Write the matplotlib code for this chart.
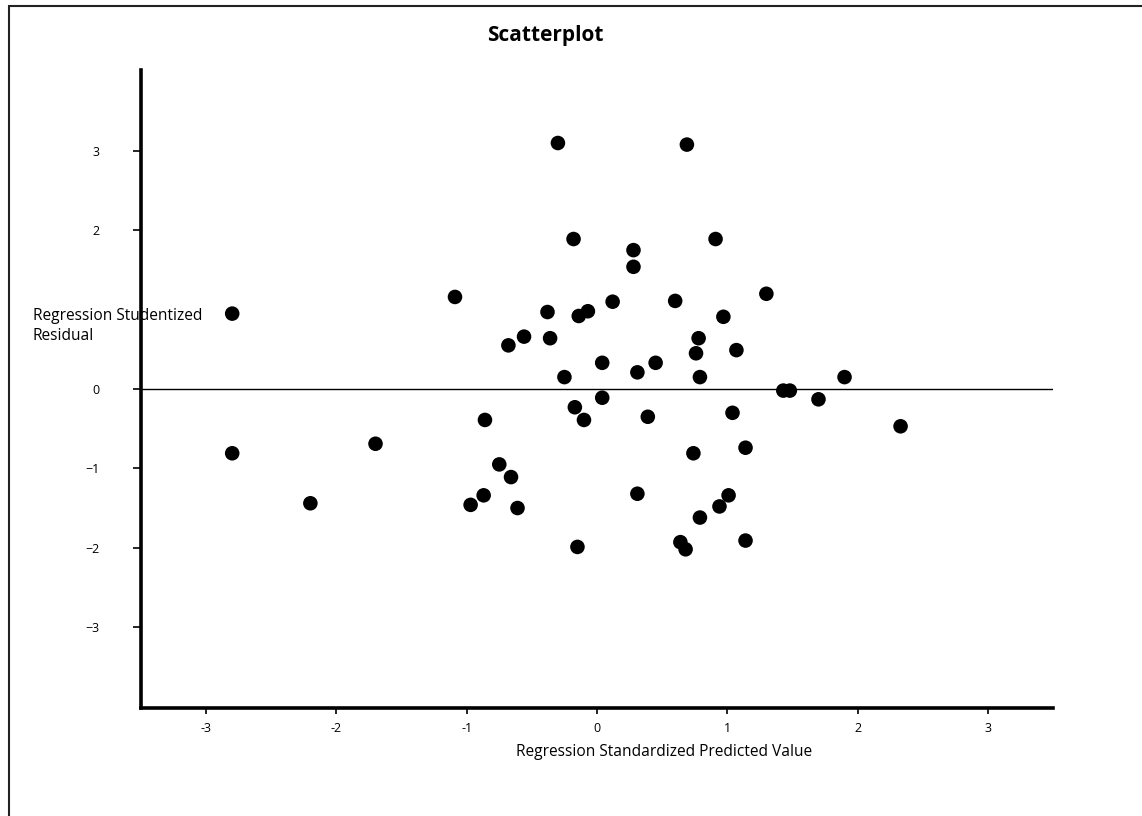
import matplotlib
matplotlib.use("Agg")
import matplotlib.pyplot as plt
from matplotlib.patches import Rectangle

plt.rcParams['font.family'] = ['Open Sans', 'DejaVu Sans']

title = "Scatterplot"
x_label = "Regression Standardized Predicted Value"
y_label = "Regression Studentized\nResidual"

x_ticks = [-3, -2, -1, 0, 1, 2, 3]
x_tick_labels = ["-3", "-2", "-1", "0", "1", "2", "3"]
y_ticks = [-3, -2, -1, 0, 1, 2, 3]
y_tick_labels = ["\u22123", "\u22122", "\u22121", "0", "1", "2", "3"]

pred = [-2.80, -2.80, -2.20, -1.70, -1.09, -0.75, -0.66, -0.87, -0.97, -0.61,
        -0.15, 0.31, -0.38, -0.14, -0.07, 0.12, -0.68, -0.56, -0.36, 0.04,
        -0.25, 0.31, -0.86, -0.17, -0.10, 0.04, 0.60, 1.30, 0.97, 0.78,
        0.76, 1.07, 0.45, 0.79, 1.43, 1.48, 1.70, 0.39, 1.04, 1.90,
        0.74, 1.14, 1.01, 0.94, 0.79, 0.64, 0.68, 1.14, -0.30, -0.18,
        0.28, 0.28, 0.69, 0.91, 2.33]
resid = [0.95, -0.81, -1.44, -0.69, 1.16, -0.95, -1.11, -1.34, -1.46, -1.50,
         -1.99, -1.32, 0.97, 0.92, 0.98, 1.10, 0.55, 0.66, 0.64, 0.33,
         0.15, 0.21, -0.39, -0.23, -0.39, -0.11, 1.11, 1.20, 0.91, 0.64,
         0.45, 0.49, 0.33, 0.15, -0.02, -0.02, -0.13, -0.35, -0.30, 0.15,
         -0.81, -0.74, -1.34, -1.48, -1.62, -1.93, -2.02, -1.91, 3.10, 1.89,
         1.75, 1.54, 3.08, 1.89, -0.47]

W, H = 1142, 816
fig = plt.figure(figsize=(W / 100, H / 100), dpi=100)
ax = fig.add_axes([141 / W, 1 - 708 / H, (1053 - 141) / W, (708 - 70) / H])

ax.axhline(0, color='black', lw=1.0, zorder=1)
ax.scatter(pred, resid, s=110, color='black', edgecolors='none', zorder=3)

ax.set_xlim(-3.5, 3.5)
ax.set_ylim(-4.02, 4.02)
for s in ['top', 'right']:
    ax.spines[s].set_visible(False)
for s in ['left', 'bottom']:
    ax.spines[s].set_linewidth(2.6)

ax.set_xticks(x_ticks)
ax.set_xticklabels(x_tick_labels)
ax.set_yticks(y_ticks)
ax.set_yticklabels(y_tick_labels)
ax.tick_params(axis='x', direction='out', length=4, width=1.2, pad=6,
               labelsize=9, colors='black')
ax.tick_params(axis='y', direction='out', length=6, width=1.2, pad=24,
               labelsize=9, colors='black')

fig.text(545 / W, 1 - 35 / H, title, ha='center', va='center',
         fontsize=15, fontweight='bold')
fig.text(664 / W, 1 - 752 / H, x_label, ha='center', va='center', fontsize=11.2)
ax.text(33 / W, 1 - 326 / H, y_label, transform=fig.transFigure,
        ha='left', va='center', fontsize=11.2, linespacing=1.3,
        clip_on=False, zorder=2,
        bbox=dict(facecolor='white', edgecolor='none', pad=2.5))

fig.patches.append(Rectangle((9 / W, -0.05), 1.2, 1 - 6 / H + 0.05,
                             transform=fig.transFigure, fill=False,
                             edgecolor='#222222', lw=1.5))

fig.savefig("out.png", dpi=100, facecolor='white')
